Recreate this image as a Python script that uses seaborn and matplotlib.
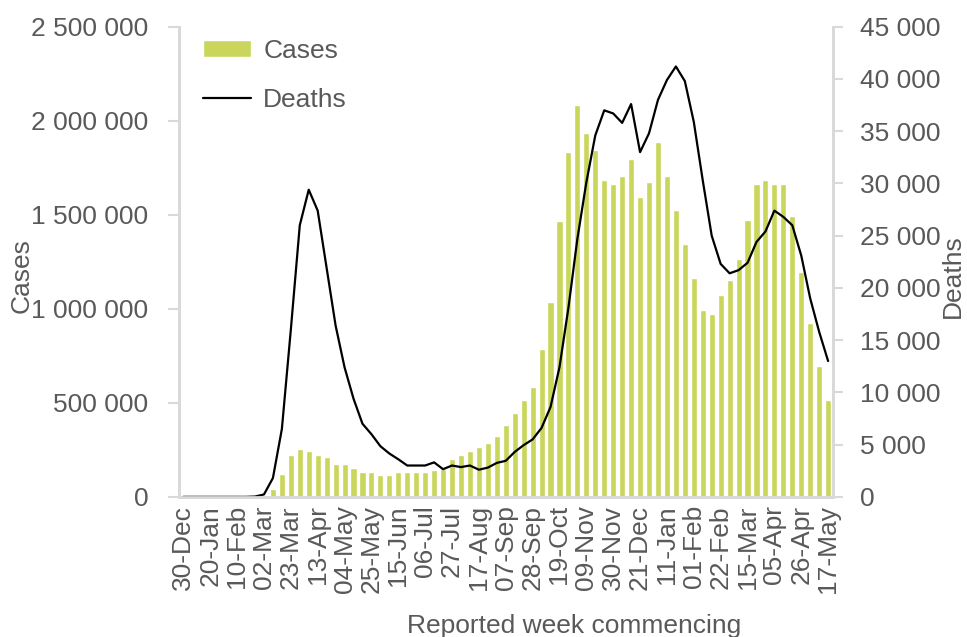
import matplotlib
matplotlib.use('Agg')
from matplotlib import pyplot as plt
from matplotlib.ticker import FuncFormatter, FixedLocator
import seaborn as sns
import pandas as pd
import numpy as np

# weekly data, week commencing 30-Dec-2019 .. 17-May-2021
weeks = pd.date_range('2019-12-30', periods=73, freq='7D')
week_labels = [d.strftime('%d-%b') for d in weeks]

cases = [0, 0, 0, 0, 0, 0, 0, 0, 0, 2000,
         41000, 119000, 220000, 254000, 243000, 220000, 210000, 174000, 174000, 151000,
         131000, 131000, 117000, 117000, 131000, 131000, 131000, 131000, 142000, 150000,
         199000, 220000, 243000, 266000, 289000, 323000, 380000, 447000, 514000, 585000,
         788000, 1037000, 1468000, 1834000, 2083000, 1936000, 1844000, 1686000, 1663000, 1707000,
         1798000, 1594000, 1675000, 1889000, 1707000, 1525000, 1344000, 1163000, 993000, 970000,
         1071000, 1153000, 1264000, 1470000, 1662000, 1685000, 1662000, 1662000, 1493000, 1197000,
         925000, 697000, 514000]

deaths = [0, 0, 0, 0, 0, 0, 0, 0, 30, 230,
          1800, 6500, 16000, 26000, 29400, 27400, 21900, 16400, 12400, 9400,
          7000, 6000, 4850, 4150, 3600, 3000, 3000, 3000, 3300, 2650,
          3000, 2850, 3000, 2600, 2800, 3250, 3450, 4300, 4950, 5500,
          6600, 8600, 12400, 18100, 24700, 30100, 34600, 37000, 36700, 35800,
          37600, 33000, 34800, 38000, 39900, 41200, 39800, 35900, 30300, 25000,
          22300, 21400, 21700, 22400, 24400, 25400, 27400, 26800, 26000, 23100,
          19000, 15800, 13000]

df = pd.DataFrame({'week': week_labels, 'pos': np.arange(len(weeks)),
                   'Cases': cases, 'Deaths': deaths})

GREY = '#595959'
SPINE = '#d9d9d9'
BAR = '#c9d65b'
FS = 19


def space_fmt(v, pos):
    return '{:,}'.format(int(round(v))).replace(',', ' ')


sns.set_style('white')
plt.rcParams['font.family'] = ['Liberation Sans', 'DejaVu Sans']

fig = plt.figure(figsize=(9.67, 6.37), dpi=100)
ax = fig.add_axes([0.185, 0.220, 0.676, 0.738])
sns.barplot(data=df, x='week', y='Cases', color=BAR, width=0.68,
            saturation=1, ax=ax, label='Cases')
ax2 = ax.twinx()
sns.lineplot(data=df, x='pos', y='Deaths', color='black', linewidth=1.6,
             ax=ax2, label='Deaths', legend=False)

ax.set_xlim(-0.5, len(weeks) - 0.5)
ax.set_ylim(0, 2500000)
ax2.set_ylim(0, 45000)
ax.set_yticks(np.arange(0, 2500001, 500000))
ax2.set_yticks(np.arange(0, 45001, 5000))
ax.yaxis.set_major_formatter(FuncFormatter(space_fmt))
ax2.yaxis.set_major_formatter(FuncFormatter(space_fmt))

# x labels every third week, small tick marks at each category boundary
ax.xaxis.set_major_locator(FixedLocator(np.arange(0, len(weeks), 3)))
ax.set_xticklabels(week_labels[::3], rotation=90)
ax.xaxis.set_minor_locator(FixedLocator(np.arange(-0.5, len(weeks), 1)))
ax.tick_params(axis='x', which='major', length=0, pad=6, labelsize=FS, labelcolor=GREY)
ax.tick_params(axis='x', which='minor', length=6, width=1.5, color=SPINE, direction='out')
ax.tick_params(axis='y', length=8, width=1.5, color=SPINE, labelsize=FS, labelcolor=GREY,
               left=True, direction='out', pad=14)
ax2.tick_params(axis='y', length=7, width=1.5, color=SPINE, labelsize=FS, labelcolor=GREY,
                right=True, direction='out', pad=13)

for a in (ax, ax2):
    a.spines['top'].set_visible(False)
    for s in ('left', 'right', 'bottom'):
        a.spines[s].set_color(SPINE)
        a.spines[s].set_linewidth(2)

ax.set_xlabel('Reported week commencing', fontsize=FS, color=GREY)
ax.set_ylabel('Cases', fontsize=FS, color=GREY)
ax2.set_ylabel('Deaths', fontsize=FS, color=GREY)
ax.xaxis.set_label_coords(0.605, -0.25)
ax.yaxis.set_label_coords(-0.222, 0.47)
ax2.yaxis.set_label_coords(1.166, 0.47)

h1, l1 = ax.get_legend_handles_labels()
h2, l2 = ax2.get_legend_handles_labels()
leg = ax.legend(h1 + h2, l1 + l2, loc='upper left', bbox_to_anchor=(0.0, 1.025),
                frameon=False, fontsize=FS, labelcolor=GREY, handlelength=1.85,
                handleheight=0.6, labelspacing=0.95, handletextpad=0.45)

fig.savefig('out.png', dpi=100)
